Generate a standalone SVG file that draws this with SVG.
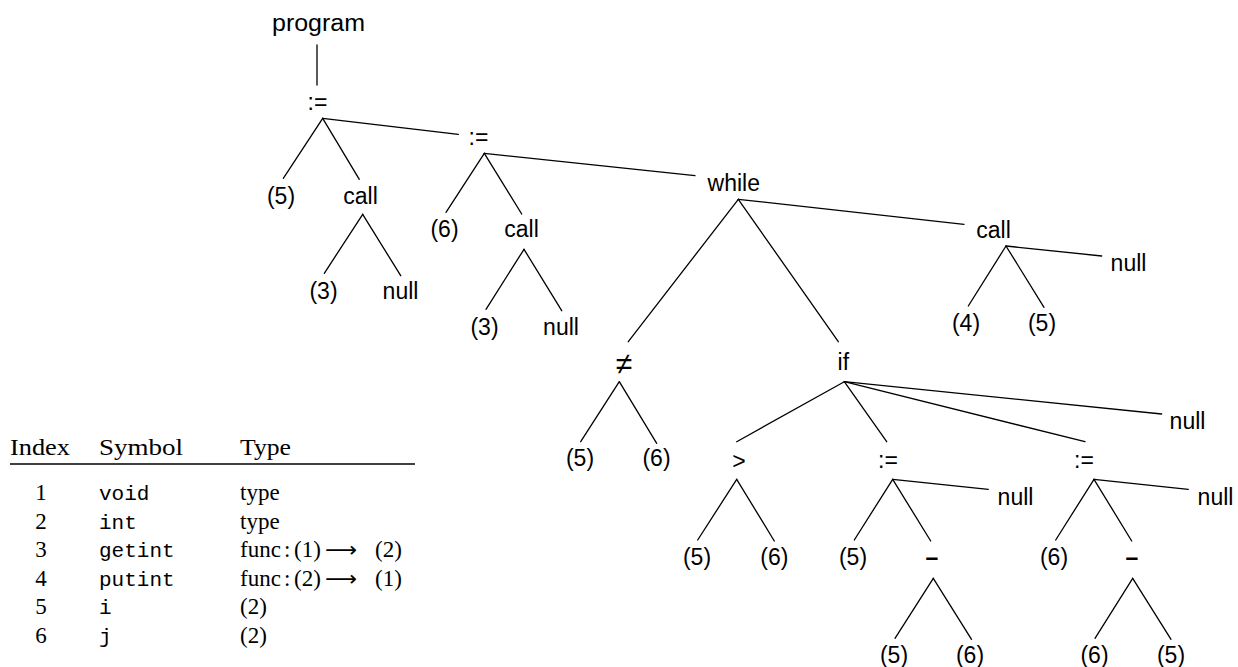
<svg xmlns="http://www.w3.org/2000/svg" width="1238" height="667" viewBox="0 0 1238 667">
<style>
.n{font-family:"Liberation Sans",Arial,sans-serif;font-size:23px;fill:#000;text-anchor:middle}
.d{font-weight:bold}
.e{stroke:#000;stroke-width:1.3;fill:none;stroke-linecap:round}
.s{font-family:"Liberation Serif","DejaVu Serif",serif;font-size:23px;fill:#000}
.m{font-family:"Liberation Mono",monospace;font-size:21px;fill:#000}
.ar{font-family:"DejaVu Sans",sans-serif;font-size:21px;fill:#000}
</style>
<rect width="1238" height="667" fill="#fff"/>
<g id="connectors" class="e">
<line x1="317" y1="45" x2="317" y2="85"/>
<line x1="322.7" y1="118.3" x2="283.3" y2="178.3"/>
<line x1="322.7" y1="118.3" x2="359.3" y2="179.3"/>
<line x1="322.7" y1="118.3" x2="458.3" y2="134.3"/>
<line x1="362.7" y1="214.3" x2="324.3" y2="273.3"/>
<line x1="362.7" y1="214.3" x2="400.7" y2="275.7"/>
<line x1="484.3" y1="153.3" x2="446" y2="212.3"/>
<line x1="484.3" y1="153.3" x2="521.7" y2="214"/>
<line x1="484.3" y1="153.3" x2="695" y2="175.7"/>
<line x1="524" y1="249.3" x2="486" y2="309.3"/>
<line x1="524" y1="249.3" x2="561.7" y2="310.7"/>
<line x1="738.3" y1="199.3" x2="628.3" y2="341.7"/>
<line x1="738.3" y1="199.3" x2="838.3" y2="341.7"/>
<line x1="738.3" y1="199.3" x2="964" y2="224.3"/>
<line x1="1006" y1="246" x2="968.3" y2="306"/>
<line x1="1006" y1="246" x2="1044" y2="307.3"/>
<line x1="1006" y1="246" x2="1101.7" y2="256"/>
<line x1="619.3" y1="381.7" x2="580.7" y2="441.7"/>
<line x1="619.3" y1="381.7" x2="656.7" y2="443.3"/>
<line x1="844.3" y1="381.7" x2="736.7" y2="441.7"/>
<line x1="844.3" y1="381.7" x2="886.7" y2="441.7"/>
<line x1="844.3" y1="381.7" x2="1085" y2="441.7"/>
<line x1="844.3" y1="381.7" x2="1161.7" y2="414"/>
<line x1="736.7" y1="479.3" x2="697.7" y2="540"/>
<line x1="736.7" y1="479.3" x2="774.3" y2="541"/>
<line x1="892.7" y1="479.3" x2="854.3" y2="540"/>
<line x1="892.7" y1="479.3" x2="930.7" y2="541"/>
<line x1="892.7" y1="479.3" x2="988.3" y2="489.3"/>
<line x1="1094" y1="479.3" x2="1055.7" y2="540"/>
<line x1="1094" y1="479.3" x2="1131.7" y2="541"/>
<line x1="1094" y1="479.3" x2="1188.3" y2="489.3"/>
<line x1="933.3" y1="578.3" x2="895" y2="638.3"/>
<line x1="933.3" y1="578.3" x2="971.5" y2="639.3"/>
<line x1="1132.7" y1="578.3" x2="1095" y2="638.3"/>
<line x1="1132.7" y1="578.3" x2="1171" y2="639.3"/>
</g>
<g id="n-program"><text class="n" x="318.5" y="31" textLength="93" lengthAdjust="spacingAndGlyphs">program</text></g>
<g id="n-assign1"><text class="n" x="317.5" y="110">:=</text></g>
<g id="n-a1-var"><text class="n" x="281" y="204">(5)</text></g>
<g id="n-a1-call"><text class="n" x="360.5" y="204">call</text></g>
<g id="n-a1-call-fn"><text class="n" x="323.5" y="299">(3)</text></g>
<g id="n-a1-call-null"><text class="n" x="400.5" y="299">null</text></g>
<g id="n-assign2"><text class="n" x="478.5" y="145">:=</text></g>
<g id="n-a2-var"><text class="n" x="444.5" y="237">(6)</text></g>
<g id="n-a2-call"><text class="n" x="521.5" y="237">call</text></g>
<g id="n-a2-call-fn"><text class="n" x="484.5" y="335">(3)</text></g>
<g id="n-a2-call-null"><text class="n" x="561" y="335">null</text></g>
<g id="n-while"><text class="n" x="733.8" y="191">while</text></g>
<g id="n-call3"><text class="n" x="993.5" y="238">call</text></g>
<g id="n-call3-null"><text class="n" x="1128.5" y="271">null</text></g>
<g id="n-call3-fn"><text class="n" x="966" y="331">(4)</text></g>
<g id="n-call3-arg"><text class="n" x="1042" y="331">(5)</text></g>
<g id="n-neq"><text class="n" x="624" y="374" style="font-size:30px">≠</text></g>
<g id="n-neq-l"><text class="n" x="580" y="466">(5)</text></g>
<g id="n-neq-r"><text class="n" x="656.5" y="466">(6)</text></g>
<g id="n-if"><text class="n" x="843.3" y="370">if</text></g>
<g id="n-if-null"><text class="n" x="1187.5" y="429">null</text></g>
<g id="n-gt"><text class="n" x="739" y="469">&gt;</text></g>
<g id="n-gt-l"><text class="n" x="697" y="565">(5)</text></g>
<g id="n-gt-r"><text class="n" x="774.3" y="565">(6)</text></g>
<g id="n-assign3"><text class="n" x="888" y="468">:=</text></g>
<g id="n-a3-null"><text class="n" x="1015.5" y="505">null</text></g>
<g id="n-a3-var"><text class="n" x="853" y="565">(5)</text></g>
<g id="n-minus1"><text class="n d" x="932" y="565">–</text></g>
<g id="n-m1-l"><text class="n" x="894" y="663">(5)</text></g>
<g id="n-m1-r"><text class="n" x="970" y="663">(6)</text></g>
<g id="n-assign4"><text class="n" x="1084" y="468">:=</text></g>
<g id="n-a4-null"><text class="n" x="1215.5" y="505">null</text></g>
<g id="n-a4-var"><text class="n" x="1054" y="565">(6)</text></g>
<g id="n-minus2"><text class="n d" x="1132" y="565">–</text></g>
<g id="n-m2-l"><text class="n" x="1094.5" y="663">(6)</text></g>
<g id="n-m2-r"><text class="n" x="1171" y="663">(5)</text></g>
<g id="symbol-table">
<text class="s" x="10" y="455" textLength="60" lengthAdjust="spacingAndGlyphs">Index</text>
<text class="s" x="99" y="455" textLength="84" lengthAdjust="spacingAndGlyphs">Symbol</text>
<text class="s" x="240" y="455" textLength="51" lengthAdjust="spacingAndGlyphs">Type</text>
<line x1="10" y1="464" x2="415" y2="464" stroke="#000" stroke-width="1.3"/>
<g class="s" text-anchor="middle">
<text x="41" y="500">1</text>
<text x="41" y="528.5">2</text>
<text x="41" y="557">3</text>
<text x="41" y="585.5">4</text>
<text x="41" y="614">5</text>
<text x="41" y="642.5">6</text>
</g>
<text class="m" x="99" y="500">void</text>
<text class="m" x="99" y="528.5">int</text>
<text class="m" x="99" y="557">getint</text>
<text class="m" x="99" y="585.5">putint</text>
<text class="m" x="99" y="614">i</text>
<text class="m" x="99" y="642.5">j</text>
<text class="s" x="240" y="500">type</text>
<text class="s" x="240" y="528.5">type</text>
<text class="s" x="240" y="557">func<tspan x="284">:</tspan><tspan x="294">(1)</tspan><tspan x="375">(2)</tspan></text>
<text class="ar" x="325" y="557" textLength="32" lengthAdjust="spacingAndGlyphs">⟶</text>
<text class="s" x="240" y="585.5">func<tspan x="284">:</tspan><tspan x="294">(2)</tspan><tspan x="375">(1)</tspan></text>
<text class="ar" x="325" y="585.5" textLength="32" lengthAdjust="spacingAndGlyphs">⟶</text>
<text class="s" x="240" y="614">(2)</text>
<text class="s" x="240" y="642.5">(2)</text>
</g>
</svg>
